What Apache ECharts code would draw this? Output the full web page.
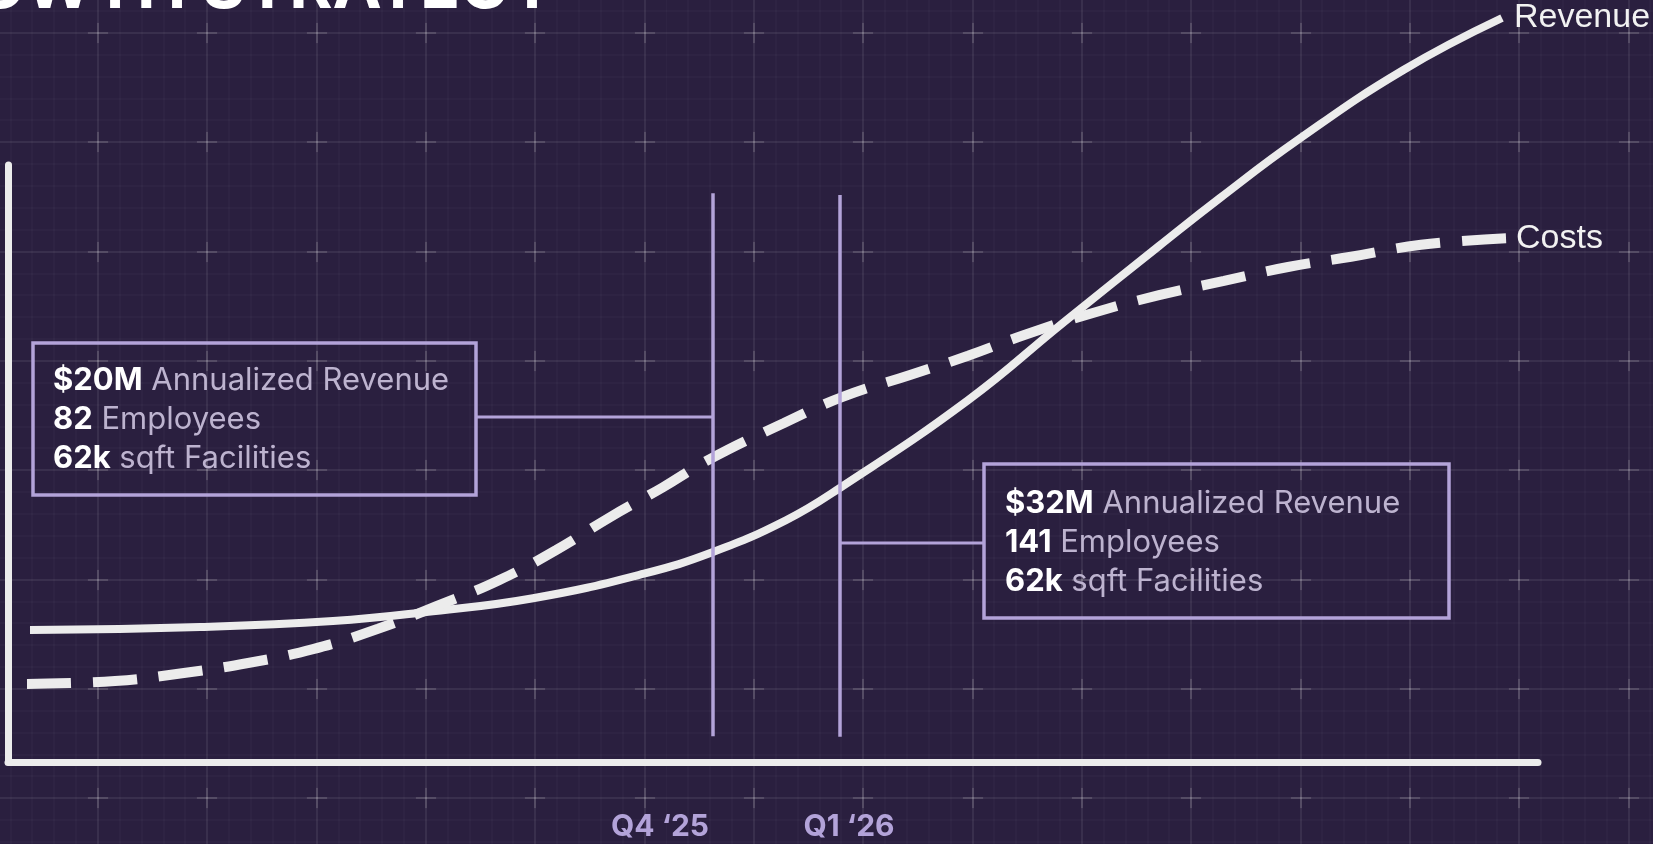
<!DOCTYPE html>
<html>
<head>
<meta charset="utf-8">
<script src="https://cdn.jsdelivr.net/npm/echarts@6/dist/echarts.min.js"></script>
<style>
  html, body { margin: 0; padding: 0; }
  #chart { width: 1653px; height: 844px; background-color: #2a1f3f; }
</style>
</head>
<body>
<div id="chart"></div>
<script>
// curve points: [time, level]
var revenuePoints = [
    [2.2, 22.0], [19.2, 22.5], [32.5, 23.5], [41.8, 25.0], [52.5, 27.3],
    [63.6, 31.4], [70.5, 35.0], [77.8, 40.3], [83.2, 45.7], [96.0, 60.3],
    [105.5, 73.2], [115.1, 86.0], [121.2, 94.0], [129.0, 103.7], [139.5, 115.3],
    [149.4, 124.0]
];
var costPoints = [
    [1.9, 13.0], [10.7, 13.5], [17.4, 14.8], [24.0, 16.5], [30.5, 18.8],
    [37.0, 22.2], [42.9, 26.0], [49.1, 30.3], [54.8, 35.3], [60.2, 40.8],
    [65.5, 45.8], [70.0, 50.3], [77.6, 56.5], [83.4, 60.8], [90.2, 64.5],
    [96.0, 67.7], [101.7, 71.2], [108.4, 74.8], [115.1, 77.8], [121.6, 80.2],
    [128.0, 82.5], [134.3, 84.2], [141.3, 86.2], [150.0, 87.3]
];
var quarterLabels = ["Q4 \u201825", "Q1 \u201826"];
var quarterLabelAt = [65.2, 84.1];
var milestoneAt = [70.5, 83.2];
var milestoneSpan = [[4.3, 94.8], [4.2, 94.5]];
var milestoneBold = [["$20M", "82", "62k"], ["$32M", "141", "62k"]];
var milestoneText = [["Annualized Revenue", "Employees", "sqft Facilities"],
                     ["Annualized Revenue", "Employees", "sqft Facilities"]];

var lav = '#b3a3d9';
var white = '#ececec';

// blueprint style background tile
function gridTile() {
    var s = 109.33, c = s / 2, step = s / 5;
    var svg = "<svg xmlns='http://www.w3.org/2000/svg' width='" + s + "' height='" + s + "'>";
    for (var k = -2; k <= 2; k++) {
        if (k === 0) continue;
        var p = c + k * step;
        svg += "<line x1='" + p + "' y1='0' x2='" + p + "' y2='" + s + "' stroke='rgba(255,255,255,0.04)' stroke-width='1'/>";
        svg += "<line x1='0' y1='" + p + "' x2='" + s + "' y2='" + p + "' stroke='rgba(255,255,255,0.04)' stroke-width='1'/>";
    }
    svg += "<line x1='" + c + "' y1='0' x2='" + c + "' y2='" + s + "' stroke='rgba(255,255,255,0.09)' stroke-width='1.5'/>";
    svg += "<line x1='0' y1='" + c + "' x2='" + s + "' y2='" + c + "' stroke='rgba(255,255,255,0.09)' stroke-width='1.5'/>";
    svg += "<line x1='" + (c - 10) + "' y1='" + c + "' x2='" + (c + 10) + "' y2='" + c + "' stroke='rgba(255,255,255,0.14)' stroke-width='2'/>";
    svg += "<line x1='" + c + "' y1='" + (c - 10) + "' x2='" + c + "' y2='" + (c + 10) + "' stroke='rgba(255,255,255,0.14)' stroke-width='2'/>";
    svg += "</svg>";
    return "url(\"data:image/svg+xml," + encodeURIComponent(svg) + "\")";
}
var box = document.getElementById('chart');
box.style.backgroundImage = gridTile();
box.style.backgroundSize = '109.33px 109.33px';
box.style.backgroundPosition = (98 - 54.67) + 'px ' + (33 - 54.67) + 'px';

var myChart = echarts.init(box, null, {renderer: 'canvas'});

var markData = [];
for (var i = 0; i < milestoneAt.length; i++) {
    markData.push([{coord: [milestoneAt[i], milestoneSpan[i][0]]}, {coord: [milestoneAt[i], milestoneSpan[i][1]]}]);
}

var option = {
    backgroundColor: 'transparent',
    animation: false,
    grid: {left: 8, right: 115, top: 165, bottom: 82},
    xAxis: {
        type: 'value',
        min: 0,
        max: 153,
        splitLine: {show: false},
        axisTick: {show: false},
        axisLine: {show: true, lineStyle: {color: white, width: 7}},
        axisLabel: {
            customValues: quarterLabelAt,
            margin: 50,
            color: lav,
            fontFamily: 'Inter',
            fontWeight: 'bold',
            fontSize: 30,
            formatter: function (v) {
                var idx = quarterLabelAt.indexOf(v);
                return idx >= 0 ? quarterLabels[idx] : '';
            }
        }
    },
    yAxis: {
        type: 'value',
        min: 0,
        max: 99.5,
        splitLine: {show: false},
        axisTick: {show: false},
        axisLabel: {show: false},
        axisLine: {show: true, lineStyle: {color: white, width: 7}}
    },
    series: [
        {
            name: 'Revenue',
            type: 'line',
            data: revenuePoints,
            smooth: 0.45,
            clip: false,
            showSymbol: false,
            lineStyle: {color: white, width: 8},
            endLabel: {
                show: true, formatter: '{a}', color: '#f2f2f2',
                fontFamily: 'Liberation Sans', fontSize: 34, distance: 12
            }
        },
        {
            name: 'Costs',
            type: 'line',
            data: costPoints,
            smooth: 0.45,
            clip: false,
            showSymbol: false,
            lineStyle: {color: white, width: 10, type: [44, 22], cap: 'butt'},
            endLabel: {
                show: true, formatter: '{a}', color: '#f2f2f2',
                fontFamily: 'Liberation Sans', fontSize: 34, distance: 8
            },
            markLine: {
                silent: true,
                symbol: 'none',
                label: {show: false},
                lineStyle: {color: lav, width: 3.5, type: 'solid'},
                data: markData
            }
        }
    ]
};
myChart.setOption(option);

function noteText(k) {
    var rows = [];
    for (var j = 0; j < milestoneBold[k].length; j++) {
        rows.push('{b|' + milestoneBold[k][j] + '}{r| ' + milestoneText[k][j] + '}');
    }
    return rows.join('\n');
}
var rich = {
    b: {fontFamily: 'Inter', fontWeight: 'bold', fontSize: 31, fill: '#ffffff', lineHeight: 39},
    r: {fontFamily: 'Inter', fontSize: 31, fill: '#bdb3cf', lineHeight: 39}
};
var line1 = myChart.convertToPixel({gridIndex: 0}, [milestoneAt[0], 0])[0];
var line2 = myChart.convertToPixel({gridIndex: 0}, [milestoneAt[1], 0])[0];

myChart.setOption({
    graphic: [
        {
            type: 'text', x: 556, y: -12,
            style: {text: 'GROWTH STRATEGY', fill: '#ffffff', font: 'bold 66px Inter', align: 'right', verticalAlign: 'middle'}
        },
        {
            type: 'rect', shape: {x: 33, y: 343, width: 443, height: 152},
            style: {fill: 'none', stroke: lav, lineWidth: 3.5}
        },
        {
            type: 'line', shape: {x1: 476, y1: 417, x2: line1, y2: 417},
            style: {stroke: lav, lineWidth: 3}
        },
        {
            type: 'text', x: 53, y: 361,
            style: {text: noteText(0), rich: rich, fill: '#bdb3cf', font: '31px Inter', verticalAlign: 'top'}
        },
        {
            type: 'rect', shape: {x: 984, y: 464, width: 465, height: 154},
            style: {fill: 'none', stroke: lav, lineWidth: 3.5}
        },
        {
            type: 'line', shape: {x1: line2, y1: 543, x2: 984, y2: 543},
            style: {stroke: lav, lineWidth: 3}
        },
        {
            type: 'text', x: 1005, y: 484,
            style: {text: noteText(1), rich: rich, fill: '#bdb3cf', font: '31px Inter', verticalAlign: 'top'}
        }
    ]
});
</script>
</body>
</html>
